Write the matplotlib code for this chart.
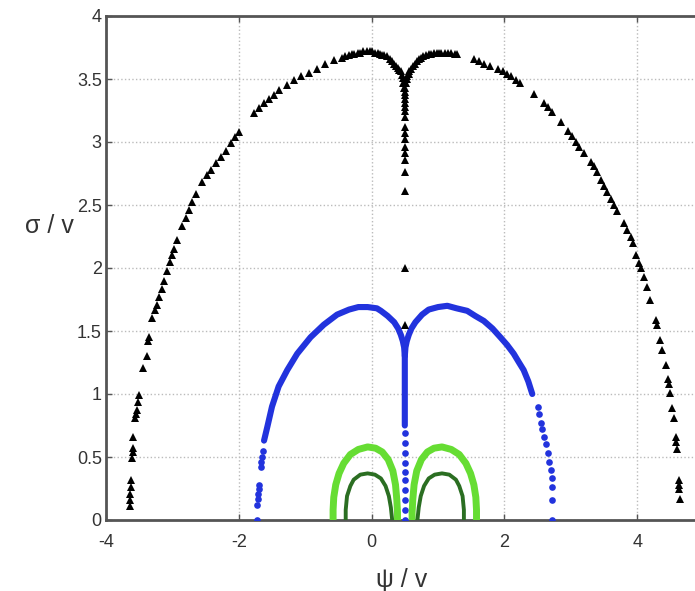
import numpy as np
import matplotlib
matplotlib.use("Agg")
import matplotlib.pyplot as plt

plt.rcParams['font.family'] = ['Liberation Sans', 'DejaVu Sans']
plt.rcParams['axes.unicode_minus'] = False

# black branch (triangles)
black_x = [-3.64, -3.64, -3.64, -3.63, -3.63, -3.61, -3.60, -3.60, -3.59, -3.56, -3.55, -3.54, -3.52, -3.51,
           -3.44, -3.39, -3.36, -3.35, -3.30, -3.26, -3.23, -3.20, -3.15, -3.13, -3.08, -3.03, -3.00, -2.97,
           -2.93, -2.85, -2.80, -2.75, -2.70, -2.65, -2.55, -2.48, -2.42, -2.35, -2.27, -2.20, -2.12, -2.05,
           -2.00, -1.77, -1.70, -1.62, -1.55, -1.47, -1.40, -1.27, -1.17, -1.07, -0.95, -0.82, -0.70, -0.57,
           -0.45, -0.40, -0.34, -0.30, -0.27, -0.20, -0.17, -0.13, -0.07, -0.03, 0.00, 0.05, 0.09, 0.12,
           0.16, 0.19, 0.23, 0.27, 0.30, 0.34, 0.37, 0.40, 0.42, 0.44, 0.46, 0.47, 0.48, 0.49,
           0.51, 0.52, 0.53, 0.54, 0.56, 0.57, 0.60, 0.62, 0.65, 0.68, 0.71, 0.74, 0.78, 0.82, 0.86, 0.90,
           0.94, 0.99, 1.02, 1.05, 1.10, 1.15, 1.20, 1.25, 1.29,
           1.54, 1.62, 1.70, 1.79, 1.90, 1.98, 2.04, 2.10, 2.17, 2.24, 2.44, 2.60, 2.66, 2.72, 2.85, 2.96,
           3.02, 3.08, 3.13, 3.20, 3.30, 3.35, 3.40, 3.45, 3.50, 3.55, 3.60, 3.65, 3.70, 3.80, 3.85, 3.90,
           3.93, 3.98, 4.02, 4.05, 4.10, 4.15, 4.20, 4.28, 4.30, 4.35, 4.38, 4.43, 4.47, 4.48, 4.50, 4.53,
           4.55, 4.58, 4.59, 4.60, 4.63, 4.63, 4.63, 4.64]
black_y = [0.11, 0.16, 0.21, 0.26, 0.32, 0.49, 0.54, 0.57, 0.66, 0.81, 0.84, 0.87, 0.94, 0.99,
           1.21, 1.30, 1.42, 1.45, 1.60, 1.67, 1.71, 1.77, 1.83, 1.90, 1.98, 2.05, 2.10, 2.15,
           2.22, 2.33, 2.40, 2.46, 2.52, 2.59, 2.68, 2.74, 2.78, 2.83, 2.88, 2.93, 2.99, 3.04,
           3.08, 3.23, 3.27, 3.31, 3.34, 3.37, 3.41, 3.45, 3.49, 3.52, 3.55, 3.58, 3.62, 3.65,
           3.67, 3.68, 3.69, 3.70, 3.70, 3.71, 3.71, 3.72, 3.72, 3.72, 3.72, 3.71, 3.71, 3.70,
           3.69, 3.69, 3.68, 3.66, 3.64, 3.62, 3.60, 3.59, 3.57, 3.56, 3.53, 3.51, 3.47, 3.43,
           3.43, 3.47, 3.50, 3.52, 3.54, 3.56, 3.58, 3.60, 3.62, 3.64, 3.66, 3.67, 3.68, 3.69, 3.70, 3.70,
           3.71, 3.71, 3.71, 3.71, 3.71, 3.71, 3.71, 3.70, 3.70,
           3.66, 3.64, 3.62, 3.60, 3.58, 3.56, 3.54, 3.52, 3.49, 3.47, 3.38, 3.31, 3.28, 3.24, 3.16, 3.09,
           3.05, 3.00, 2.96, 2.91, 2.84, 2.81, 2.76, 2.70, 2.65, 2.60, 2.55, 2.50, 2.45, 2.36, 2.30, 2.25,
           2.20, 2.10, 2.04, 2.00, 1.93, 1.85, 1.75, 1.59, 1.55, 1.43, 1.35, 1.23, 1.12, 1.08, 1.01, 0.89,
           0.81, 0.66, 0.62, 0.56, 0.32, 0.28, 0.25, 0.17]
stem_y = [3.40, 3.37, 3.34, 3.31, 3.28, 3.25, 3.20, 3.12, 3.07, 3.02, 2.96, 2.91, 2.86, 2.76, 2.61, 2.00, 1.55]

# blue branch
blue_l_x = [-1.62, -1.57, -1.50, -1.40, -1.27, -1.12, -0.92, -0.72, -0.52, -0.34, -0.20, -0.06,
            0.08, 0.14, 0.24, 0.34, 0.40, 0.44, 0.47, 0.49, 0.50, 0.50, 0.50]
blue_l_y = [0.63, 0.74, 0.90, 1.06, 1.19, 1.32, 1.45, 1.55, 1.63, 1.67, 1.69, 1.69,
            1.68, 1.66, 1.62, 1.57, 1.52, 1.47, 1.42, 1.37, 1.30, 1.00, 0.75]
blue_r_x = [0.50, 0.51, 0.53, 0.56, 0.60, 0.66, 0.76, 0.86, 1.00, 1.14, 1.28, 1.44, 1.56, 1.69,
            1.82, 1.94, 2.04, 2.14, 2.22, 2.29, 2.36, 2.42]
blue_r_y = [1.30, 1.37, 1.42, 1.47, 1.52, 1.57, 1.63, 1.67, 1.69, 1.70, 1.68, 1.66, 1.62, 1.58,
            1.52, 1.45, 1.39, 1.32, 1.25, 1.19, 1.10, 1.00]
blue_dot_x = [-1.72, -1.72, -1.71, -1.71, -1.70, -1.70, -1.67, -1.66, -1.65, -1.64,
              2.50, 2.52, 2.55, 2.57, 2.60, 2.62, 2.65, 2.67, 2.70, 2.71, 2.72, 2.72, 2.72,
              0.50, 0.50, 0.50, 0.50, 0.50, 0.50, 0.50, 0.50, 0.50, 0.50]
blue_dot_y = [0.00, 0.12, 0.17, 0.21, 0.25, 0.28, 0.42, 0.46, 0.50, 0.55,
              0.90, 0.84, 0.77, 0.72, 0.66, 0.60, 0.53, 0.46, 0.40, 0.33, 0.26, 0.16, 0.00,
              0.69, 0.61, 0.53, 0.45, 0.38, 0.32, 0.24, 0.16, 0.08, 0.00]

# light green arches
lg_l_x = [-0.58, -0.58, -0.57, -0.54, -0.49, -0.42, -0.32, -0.20, -0.06, 0.06, 0.16, 0.25, 0.32, 0.36, 0.38, 0.39, 0.39]
lg_l_y = [0.00, 0.08, 0.18, 0.28, 0.37, 0.45, 0.52, 0.56, 0.58, 0.57, 0.54, 0.48, 0.39, 0.28, 0.16, 0.06, 0.00]
lg_r_x = [0.61, 0.61, 0.62, 0.64, 0.68, 0.75, 0.84, 0.94, 1.06, 1.20, 1.32, 1.42, 1.49, 1.54, 1.57, 1.58, 1.58]
lg_r_y = [0.00, 0.06, 0.16, 0.28, 0.39, 0.48, 0.54, 0.57, 0.58, 0.56, 0.52, 0.45, 0.37, 0.28, 0.18, 0.08, 0.00]

# dark green arches
dg_l_x = [-0.39, -0.39, -0.37, -0.32, -0.27, -0.17, -0.06, 0.05, 0.14, 0.21, 0.26, 0.29, 0.31]
dg_l_y = [0.00, 0.08, 0.19, 0.27, 0.32, 0.36, 0.37, 0.36, 0.33, 0.27, 0.19, 0.10, 0.00]
dg_r_x = [0.69, 0.71, 0.74, 0.79, 0.86, 0.95, 1.06, 1.17, 1.27, 1.32, 1.37, 1.39, 1.39]
dg_r_y = [0.00, 0.10, 0.19, 0.27, 0.33, 0.36, 0.37, 0.36, 0.32, 0.27, 0.19, 0.08, 0.00]

xticks = [-4, -2, 0, 2, 4]
yticks = [0, 0.5, 1, 1.5, 2, 2.5, 3, 3.5, 4]
ytick_labels = ['0', '0.5', '1', '1.5', '2', '2.5', '3', '3.5', '4']

fig = plt.figure(figsize=(6.95, 5.91), dpi=100)
ax = fig.add_axes([106 / 695, 71 / 591, 597.6 / 695, 504 / 591])

lgreen = '#66dd33'
dgreen = '#2b6e22'
blue = '#2233dd'

ax.plot(blue_l_x, blue_l_y, color=blue, lw=4.4, solid_capstyle='round', zorder=3)
ax.plot(blue_r_x, blue_r_y, color=blue, lw=4.4, solid_capstyle='round', zorder=3)
ax.plot(blue_dot_x, blue_dot_y, 'o', color=blue, ms=4.8, mew=0, zorder=3)

ax.plot(lg_l_x, lg_l_y, color=lgreen, lw=5, solid_capstyle='round', zorder=4)
ax.plot(lg_r_x, lg_r_y, color=lgreen, lw=5, solid_capstyle='round', zorder=4)
ax.plot(dg_l_x, dg_l_y, color=dgreen, lw=2.8, solid_capstyle='round', zorder=5)
ax.plot(dg_r_x, dg_r_y, color=dgreen, lw=2.8, solid_capstyle='round', zorder=5)

ax.plot(black_x, black_y, '^', color='black', ms=5.5, mew=0, zorder=6)
ax.plot([0.5] * len(stem_y), stem_y, '^', color='black', ms=5.5, mew=0, zorder=6)

ax.set_xlim(-4, 5)
ax.set_ylim(0, 4)
ax.set_xticks(xticks)
ax.set_yticks(yticks)
ax.set_yticklabels(ytick_labels)
ax.grid(True, linestyle=':', color='#bbbbbb', lw=1.0)
ax.set_axisbelow(True)

for s in ['left', 'bottom', 'top']:
    ax.spines[s].set_color('#555555')
    ax.spines[s].set_linewidth(2.0)
ax.spines['right'].set_visible(False)
ax.tick_params(direction='in', length=4, width=1, color='#555555', labelsize=13,
               labelcolor='#333333', top=True)
ax.tick_params(axis='x', pad=10)
ax.tick_params(axis='y', pad=3)

ax.set_xlabel('ψ / v', fontsize=18, color='#333333')
ax.xaxis.set_label_coords(0.494, -0.095)
ax.set_ylabel('σ / v', fontsize=18, color='#333333', rotation=0)
ax.yaxis.set_label_coords(-0.094, 0.56)

fig.savefig('out.png', dpi=100)
